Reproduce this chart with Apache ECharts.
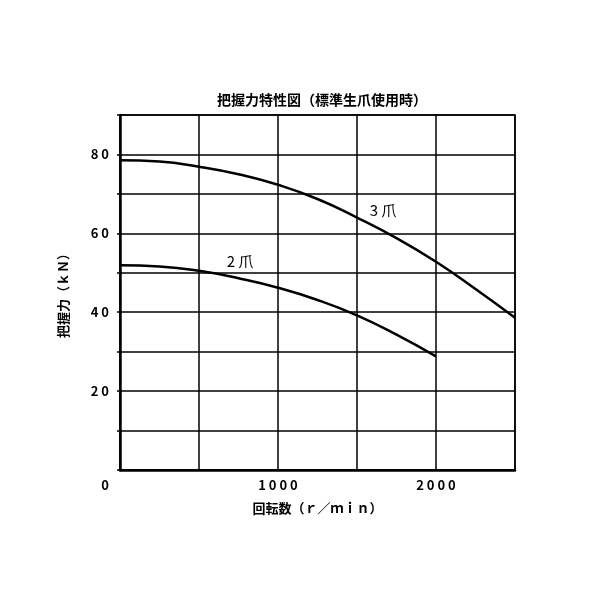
<!DOCTYPE html>
<html>
<head>
<meta charset="utf-8">
<script src="https://cdn.jsdelivr.net/npm/echarts@6/dist/echarts.min.js"></script>
<style>
  html, body { margin: 0; padding: 0; background: #fff; }
  #main { width: 600px; height: 600px; }
</style>
</head>
<body>
<div id="main"></div>
<script>
var rpm = [0, 250, 500, 750, 1000, 1250, 1500, 1750, 2000, 2250, 2500];
var claw3 = [78.5, 78.2, 76.9, 75.0, 72.3, 68.7, 64.0, 58.8, 52.8, 45.9, 38.6];
var claw2 = [51.9, 51.6, 50.5, 48.6, 46.2, 43.1, 39.2, 34.3, 28.8];
var yLabels = [20, 40, 60, 80];
var xLabels = [0, 1000, 2000];

var font = '"Noto Sans CJK JP", sans-serif';

function pairs(xs, ys) {
    return ys.map(function (v, i) { return [xs[i], v]; });
}
function spaced(v) {
    return String(v).split('').join(' ');
}

var myChart = echarts.init(document.getElementById('main'));

var option = {
    backgroundColor: '#fff',
    animation: false,
    title: {
        text: '把握力特性図（標準生爪使用時）',
        left: 317,
        textAlign: 'center',
        top: 88,
        textStyle: { color: '#000', fontSize: 14, fontWeight: 'bold', fontFamily: font }
    },
    grid: {
        left: 120, right: 85, top: 115, bottom: 130,
        show: true, borderColor: '#000', borderWidth: 1.5
    },
    xAxis: {
        type: 'value',
        min: 0, max: 2500, interval: 500,
        name: '回転数（ｒ／ｍｉｎ）',
        nameLocation: 'middle',
        nameGap: 32,
        nameTextStyle: { color: '#000', fontSize: 13, fontWeight: 'bold', fontFamily: font },
        axisLine: { show: true, lineStyle: { color: '#000', width: 2.5 } },
        axisTick: { show: false },
        splitLine: { show: true, lineStyle: { color: '#000', width: 1.5 } },
        axisLabel: {
            margin: 9,
            color: '#000', fontSize: 13, fontWeight: 'bold', fontFamily: font,
            formatter: function (v) {
                if (xLabels.indexOf(v) < 0) return '';
                if (v === 0) return '{z|0}';
                return spaced(v);
            },
            rich: {
                z: { padding: [0, 30, 0, 0], color: '#000', fontSize: 13, fontWeight: 'bold', fontFamily: font }
            }
        }
    },
    yAxis: {
        type: 'value',
        min: 0, max: 90, interval: 10,
        name: '把握力（ｋＮ）',
        nameLocation: 'middle',
        nameGap: 50,
        nameRotate: 90,
        nameTextStyle: { color: '#000', fontSize: 13, fontWeight: 'bold', fontFamily: font },
        axisLine: { show: true, lineStyle: { color: '#000', width: 2.5 } },
        axisTick: { show: true, length: 3, lineStyle: { color: '#000', width: 1.5 } },
        splitLine: { show: true, lineStyle: { color: '#000', width: 1.5 } },
        axisLabel: {
            margin: 11,
            color: '#000', fontSize: 13, fontWeight: 'bold', fontFamily: font,
            formatter: function (v) {
                return yLabels.indexOf(v) < 0 ? '' : spaced(v);
            }
        }
    },
    series: [
        {
            name: '3爪',
            type: 'line',
            smooth: true,
            showSymbol: false,
            data: pairs(rpm, claw3),
            lineStyle: { color: '#000', width: 2.5 },
            markPoint: {
                symbol: 'rect', symbolSize: 0,
                label: { show: true, formatter: '3 爪', color: '#000', fontSize: 15, fontFamily: font },
                data: [{ coord: [1665, 65.8] }]
            }
        },
        {
            name: '2爪',
            type: 'line',
            smooth: true,
            showSymbol: false,
            data: pairs(rpm, claw2),
            lineStyle: { color: '#000', width: 2.5 },
            markPoint: {
                symbol: 'rect', symbolSize: 0,
                label: { show: true, formatter: '2 爪', color: '#000', fontSize: 15, fontFamily: font },
                data: [{ coord: [760, 52.9] }]
            }
        }
    ]
};

myChart.setOption(option);
</script>
</body>
</html>
